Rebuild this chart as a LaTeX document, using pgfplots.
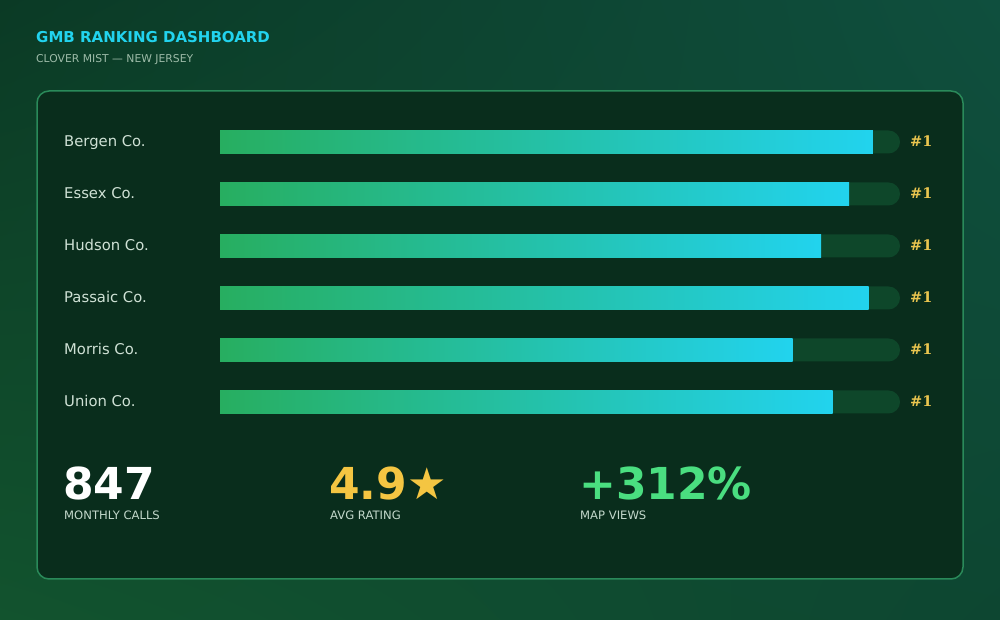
\documentclass[border=0pt]{standalone}
\usepackage{pgfplots}
\pgfplotsset{compat=1.18}
\usetikzlibrary{shadings}
\usepackage{fontspec}
\setmainfont{DejaVu Sans}
\newfontfamily\dvserif{DejaVu Serif}
\definecolor{bgTL}{HTML}{0B3A25}
\definecolor{bgTR}{HTML}{0F4F3E}
\definecolor{bgBL}{HTML}{12532E}
\definecolor{bgBR}{HTML}{0D4631}
\definecolor{panel}{HTML}{092D1C}
\definecolor{panelB}{HTML}{2A8A5A}
\definecolor{track}{HTML}{0E472A}
\definecolor{gA}{HTML}{27AE60}
\definecolor{gB}{HTML}{22D3EE}
\definecolor{titlec}{HTML}{22D3EE}
\definecolor{subc}{HTML}{9DBBA8}
\definecolor{labc}{HTML}{CFE1D5}
\definecolor{rankc}{HTML}{EAC54F}
\definecolor{starc}{HTML}{F4C542}
\definecolor{mapc}{HTML}{4ADE80}
\definecolor{slabc}{HTML}{C3D8CB}
\begin{document}
\begin{tikzpicture}[x=1pt,y=1pt]
\begin{scope}[yshift=620pt, y=-1pt]
\shade[upper left=bgTL, upper right=bgTR, lower left=bgBL, lower right=bgBR] (0,0) rectangle (1000,620);
\path[use as bounding box] (0,0) rectangle (1000,620);
% title
\node[anchor=base west, inner sep=0, text=titlec, font=\fontsize{15}{18}\selectfont\bfseries] at (36,42.5) {GMB RANKING DASHBOARD};
\node[anchor=base west, inner sep=0, text=subc, font=\fontsize{10.8}{13}\selectfont] at (36,63) {CLOVER MIST — NEW JERSEY};
% panel
\draw[draw=panelB, line width=1.5pt, fill=panel, rounded corners=12pt] (37,91) rectangle (963,579);
\end{scope}
\begin{axis}[at={(220pt,504pt)}, anchor=north west, scale only axis, width=680pt, height=312pt,
  xmin=0, xmax=100, ymin=-0.5, ymax=5.5, y dir=reverse, hide axis, clip=false]
\addplot[xbar, bar shift=0pt, bar width=23pt, fill=track, draw=none, rounded corners=11.5pt]
  coordinates {(100,0) (100,1) (100,2) (100,3) (100,4) (100,5)};
\addplot[xbar, bar shift=0pt, bar width=23pt, draw=none, left color=gA, right color=gB] coordinates {(96,0)};
\addplot[xbar, bar shift=0pt, bar width=23pt, draw=none, left color=gA, right color=gB] coordinates {(92.5,1)};
\addplot[xbar, bar shift=0pt, bar width=23pt, draw=none, left color=gA, right color=gB] coordinates {(88.4,2)};
\addplot[xbar, bar shift=0pt, bar width=23pt, draw=none, left color=gA, right color=gB] coordinates {(95.4,3)};
\addplot[xbar, bar shift=0pt, bar width=23pt, draw=none, left color=gA, right color=gB] coordinates {(84.2,4)};
\addplot[xbar, bar shift=0pt, bar width=23pt, draw=none, left color=gA, right color=gB] coordinates {(90.1,5)};
\end{axis}
\begin{scope}[yshift=620pt, y=-1pt]
% labels
\foreach \lab [count=\i from 0] in {Bergen Co.,Essex Co.,Hudson Co.,Passaic Co.,Morris Co.,Union Co.}{
  \node[anchor=base west, inner sep=0, text=labc, font=\fontsize{14.8}{17}\selectfont] at (64,147+52*\i) {\lab};
  \node[anchor=base west, inner sep=0, text=rankc, font=\fontsize{14.5}{17}\selectfont\dvserif\bfseries] at (910,147+52*\i) {\#1};
}
% stats
\node[anchor=base west, inner sep=0, text=white, font=\fontsize{44}{50}\selectfont\bfseries] at (63,500) {847};
\node[anchor=base west, inner sep=0, text=starc, font=\fontsize{44}{50}\selectfont\bfseries] at (329,500) {4.9★};
\node[anchor=base west, inner sep=0, text=mapc, font=\fontsize{44}{50}\selectfont\bfseries] at (579,500) {+312\%};
\node[anchor=base west, inner sep=0, text=slabc, font=\fontsize{11.6}{14}\selectfont] at (64,520) {MONTHLY CALLS};
\node[anchor=base west, inner sep=0, text=slabc, font=\fontsize{11.6}{14}\selectfont] at (330,520) {AVG RATING};
\node[anchor=base west, inner sep=0, text=slabc, font=\fontsize{11.6}{14}\selectfont] at (580,520) {MAP VIEWS};
\end{scope}
\end{tikzpicture}
\end{document}
